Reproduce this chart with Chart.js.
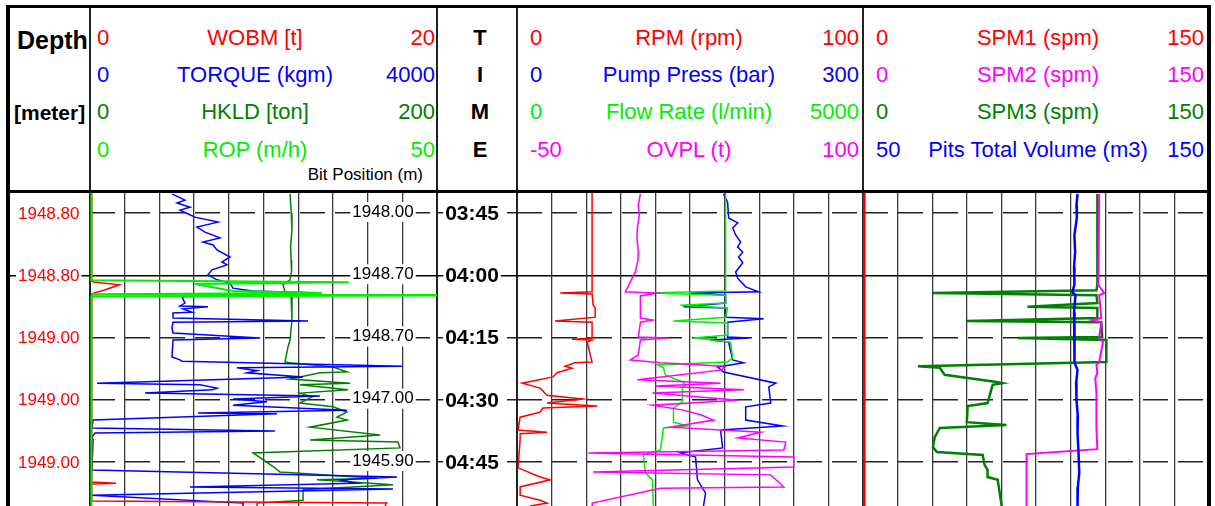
<!DOCTYPE html>
<html>
<head>
<meta charset="utf-8">
<script src="https://cdn.jsdelivr.net/npm/chart.js"></script>
<style>
  html, body { margin: 0; padding: 0; background: #fff; }
  #page { position: relative; width: 1215px; height: 506px; overflow: hidden;
          font-family: "Liberation Sans", Arial, sans-serif; }
  .ln { position: absolute; background: #000; }
  .txt { position: absolute; white-space: nowrap; }
  canvas { position: absolute; }
</style>
</head>
<body>
<div id="page"></div>
<script>
// time axis: minutes after midnight (03:45 = 225)
const tStart = 220.18, tEnd = 295.6;
const tickTimes = [225, 240, 255, 270, 285];
const depthLabels = ['1948.80', '1948.80', '1949.00', '1949.00', '1949.00'];
const bitPosLabels = ['1948.00', '1948.70', '1948.70', '1947.00', '1945.90'];

// each series: [time, value]
const wobm = [[220.2, 0.1], [241.4, 0.1], [241.6, 0.2], [242.3, 1.7], [243.6, 0.8], [244.3, 0.2], [244.5, 0.1],
  [289.8, 0.1], [290.1, 1.5], [290.3, 0.1], [294.4, 0.1], [294.9, 17.1], [295.6, 17]];
const torque = [[220.4, 945], [221.9, 1095], [222.6, 1003], [223.6, 1153], [224.3, 1037], [225.0, 1107], [226.0, 1210],
  [227.2, 1475], [228.4, 1233], [229.6, 1326], [231.0, 1499], [232.0, 1303], [232.7, 1418], [233.9, 1464], [235.6, 1614],
  [236.8, 1522], [237.5, 1579], [238.7, 1406], [239.9, 1360], [241.1, 1464], [241.9, 1614], [243.1, 1648], [243.6, 1810],
  [243.8, 1879], [244.3, 2651], [244.8, 1844], [245.2, 1060], [246.7, 1095], [247.4, 1037], [247.6, 1360], [248.1, 1072],
  [248.9, 1176], [249.1, 957], [250.3, 957], [251.0, 2513], [251.3, 957], [252.7, 945], [253.9, 957], [255.1, 1960],
  [255.6, 957], [259.7, 945], [260.4, 1037], [260.7, 1060], [261.9, 3608], [262.3, 1694], [263.0, 1925], [263.5, 1810],
  [264.5, 2455], [266.0, 81], [266.4, 1268], [267.2, 1464], [267.6, 1406], [268.4, 634], [269.1, 2651], [269.8, 1648],
  [270.5, 2040], [271.3, 1648], [272.5, 2962], [273.2, 1245], [273.4, 2155], [274.9, 35], [276.8, 23], [277.5, 2132],
  [278.0, 58], [279.0, 23], [279.7, 35], [286.4, 23], [286.9, 23], [288.6, 3539], [289.3, 2882], [290.1, 3078],
  [291.0, 1153], [291.5, 3493], [293.0, 20], [294.9, 1764], [295.6, 1764]];
const hkld = [[220.4, 115.3], [225.0, 116.0], [229.1, 116.4], [233.0, 115.6], [236.3, 115.9], [239.0, 116.2], [241.1, 115.3],
  [242.3, 111.2], [244.0, 112.4], [245.2, 115.9], [250.8, 116.4], [255.6, 115.3], [257.3, 114.1], [260.9, 112.4],
  [261.1, 115.3], [262.1, 140.1], [263.3, 148.1], [263.5, 132.6], [265.0, 115.3], [266.0, 149.9], [266.4, 121.0],
  [267.6, 148.7], [268.4, 121.0], [269.3, 128.0], [270.8, 121.0], [271.7, 140.1], [273.0, 148.1], [274.2, 142.4],
  [274.9, 148.1], [276.6, 126.8], [278.5, 167.2], [279.7, 126.8], [280.2, 177.5], [281.6, 178.7], [282.8, 94.0],
  [286.4, 106.6], [287.4, 109.5], [288.9, 165.4], [289.3, 130.8], [290.5, 174.7], [291.7, 122.8], [294.2, 122.8],
  [294.9, 96.3], [295.6, 96.3]];
const rop = [[220.2, 0.2], [241.2, 0.2], [241.7, 37.3], [242.1, 15.1], [243.8, 20.6], [244.3, 33.4], [244.6, 0.2],
  [244.8, 60], [245.1, 0.2], [295.6, 0.2]];

const rpm = [[220.2, 21.7], [244.0, 21.7], [244.3, 12.5], [244.5, 21.7], [247.2, 22.0], [247.9, 22.6], [250.1, 22.6],
  [251.0, 11.0], [251.3, 21.7], [255.1, 21.7], [255.4, 15.9], [255.6, 21.7], [256.1, 20.3], [260.9, 21.7], [261.1, 16.8],
  [261.9, 13.9], [262.4, 15.9], [263.5, 11.6], [264.5, 10.4], [266.0, 1.5], [267.2, 6.7], [268.9, 8.7], [269.8, 19.1],
  [270.8, 8.7], [271.5, 23.2], [272.0, 7.5], [273.0, 6.7], [274.2, 0.9], [277.3, 0.3], [277.8, 8.7], [278.2, 0.9],
  [279.7, 0.9], [286.4, 0.3], [288.6, 6.7], [289.3, 9.6], [291.0, 0.9], [293.0, 0.9], [294.2, 6.7], [294.9, 8.7],
  [295.6, 3.8]];
const pumpPress = [[220.4, 179.1], [222.4, 182.6], [226.2, 183.5], [227.4, 191.3], [228.6, 187.0], [230.3, 189.6],
  [232.0, 193.9], [233.2, 191.3], [234.4, 195.7], [235.6, 192.2], [237.0, 195.7], [239.2, 189.6], [240.7, 191.3],
  [242.8, 198.3], [244.0, 209.6], [244.3, 150.4], [244.8, 180.9], [246.7, 180.9], [247.6, 144.4], [247.9, 180.9],
  [250.1, 180.9], [250.5, 213.9], [251.3, 182.6], [254.9, 182.6], [255.1, 200.9], [255.6, 167.8], [256.1, 183.5],
  [260.4, 187.0], [261.1, 196.5], [262.1, 173.9], [263.3, 179.1], [266.0, 224.4], [266.9, 218.3], [270.8, 220.0],
  [271.7, 198.3], [274.9, 198.3], [276.3, 230.4], [277.3, 176.5], [281.6, 178.3], [282.8, 141.7], [283.8, 154.8],
  [289.3, 156.5], [292.5, 163.5], [295.6, 161.7]];
const flowRate = [[220.2, 3014], [243.8, 3014], [244.3, 1899], [244.8, 3014], [246.7, 3014], [247.2, 2362], [247.9, 3043],
  [250.1, 3014], [251.0, 2261], [251.5, 3043], [254.4, 3043], [255.1, 2551], [256.1, 3087], [259.9, 3116], [260.9, 3043],
  [261.6, 2029], [262.3, 2116], [264.0, 2145], [265.7, 2391], [266.4, 2435], [267.2, 2391], [270.5, 2391], [272.0, 2261],
  [275.4, 2261], [276.3, 2464], [276.8, 2116], [282.1, 2073], [283.3, 1826], [287.6, 1855], [289.3, 1957], [295.6, 1971]];
const ovpl = [[220.4, 3.5], [223.1, 2.6], [225.5, 3.0], [228.6, 2.2], [231.0, 2.0], [234.4, 2.6], [236.5, 2.4], [239.2, 1.3],
  [241.6, -0.9], [244.0, -3.0], [244.3, 10.9], [245.0, 3.5], [250.3, 3.5], [250.8, 8.7], [251.3, 3.5], [254.9, 2.6],
  [255.1, 15.2], [255.6, 3.5], [259.2, 2.6], [260.4, -0.9], [261.1, 12.2], [261.9, 39.6], [262.8, 39.1], [265.2, 2.2],
  [266.0, 38.3], [266.7, 10.0], [267.6, 48.3], [268.4, 8.7], [270.1, 45.7], [271.3, 8.7], [272.5, 22.2], [273.6, 29.6],
  [274.9, 35.2], [276.6, 16.5], [277.8, 55.7], [279.2, 45.7], [280.2, 66.5], [282.1, 65.7], [282.8, -19.1], [283.8, 70.0],
  [286.2, 70.0], [287.4, -17.0], [288.1, 60.0], [291.0, 65.7], [291.3, 12.2], [294.9, -17.4], [295.6, -17.4]];

const spm1 = [[220.2, 0.6], [295.6, 0.6]];
const spm2 = [[220.4, 102.4], [242.3, 102.0], [244.3, 104.6], [244.8, 102.4], [250.3, 103.3], [250.8, 99.4], [251.3, 103.3],
  [254.9, 102.4], [256.1, 104.0], [260.9, 102.4], [261.6, 101.2], [263.5, 101.6], [264.8, 100.7], [268.4, 101.2],
  [276.8, 101.2], [281.9, 101.6], [283.1, 70.9], [295.6, 70.9]];
const spm3 = [[220.4, 101.6], [242.3, 101.6], [243.6, 101.2], [244.3, 30.3], [244.8, 101.2], [246.7, 101.6], [247.6, 71.3],
  [247.9, 101.6], [250.3, 101.6], [251.0, 45.0], [251.3, 103.3], [254.9, 103.7], [255.1, 67.0], [255.6, 105.5],
  [260.9, 105.5], [261.9, 23.8], [262.3, 33.3], [264.0, 35.4], [265.7, 57.9], [266.0, 60.5], [266.4, 56.2], [270.8, 54.0],
  [271.5, 45.4], [275.4, 45.0], [276.1, 62.2], [276.8, 33.3], [279.0, 31.1], [281.4, 30.3], [282.6, 32.0], [283.3, 51.9],
  [285.7, 52.7], [286.9, 54.0], [288.6, 54.0], [289.3, 58.4], [292.2, 59.2], [295.6, 60.1]];
const pitsVol = [[220.4, 112.0], [223.1, 111.7], [226.2, 111.8], [230.3, 111.1], [234.4, 111.3], [238.0, 111.0],
  [242.3, 111.1], [244.0, 110.5], [244.8, 111.4], [249.0, 111.0], [254.4, 111.1], [258.0, 111.2], [261.1, 111.1],
  [262.8, 112.0], [266.0, 111.6], [270.1, 111.7], [274.0, 112.1], [278.0, 112.0], [283.0, 112.3], [287.6, 112.5],
  [291.0, 112.1], [295.6, 112.0]];

const RED = '#ff0000', BLUE = '#0000ff', GREEN = '#008000', LIME = '#00ee00', MAGENTA = '#ff00ff';

const tracks = [
  { left: 90, width: 347, minX: 97, nameX: 255, maxR: 435 },
  { left: 517, width: 346, minX: 530, nameX: 689, maxR: 859 },
  { left: 863, width: 346, minX: 876, nameX: 1038, maxR: 1204 },
];
const rowY = [38, 75, 112, 150];

// listed top-most first (Chart.js draws the first dataset last)
const curves = [
  { track: 0, row: 3, name: 'ROP (m/h)', min: 0, max: 50, color: LIME, width: 2, data: rop },
  { track: 0, row: 0, name: 'WOBM [t]', min: 0, max: 20, color: RED, width: 1.5, data: wobm },
  { track: 0, row: 1, name: 'TORQUE (kgm)', min: 0, max: 4000, color: BLUE, width: 1.5, data: torque },
  { track: 0, row: 2, name: 'HKLD [ton]', min: 0, max: 200, color: GREEN, width: 1.5, data: hkld },
  { track: 1, row: 3, name: 'OVPL (t)', min: -50, max: 100, color: MAGENTA, width: 1.5, data: ovpl },
  { track: 1, row: 0, name: 'RPM (rpm)', min: 0, max: 100, color: RED, width: 1.5, data: rpm },
  { track: 1, row: 2, name: 'Flow Rate (l/min)', min: 0, max: 5000, color: LIME, width: 1.5, data: flowRate },
  { track: 1, row: 1, name: 'Pump Press (bar)', min: 0, max: 300, color: BLUE, width: 1.5, data: pumpPress },
  { track: 2, row: 3, name: 'Pits Total Volume (m3)', min: 50, max: 150, color: BLUE, width: 2.5, data: pitsVol },
  { track: 2, row: 1, name: 'SPM2 (spm)', min: 0, max: 150, color: MAGENTA, width: 2, data: spm2 },
  { track: 2, row: 2, name: 'SPM3 (spm)', min: 0, max: 150, color: GREEN, width: 2.5, data: spm3 },
  { track: 2, row: 0, name: 'SPM1 (spm)', min: 0, max: 150, color: RED, width: 2.5, data: spm1 },
];

const page = document.getElementById('page');
const FONT = '"Liberation Sans", Arial, sans-serif';
Chart.defaults.font.family = FONT;

function box(x, y, w, h, color) {
  const d = document.createElement('div');
  d.className = 'ln';
  Object.assign(d.style, { left: x + 'px', top: y + 'px', width: w + 'px', height: h + 'px', background: color || '#000' });
  page.appendChild(d);
}

function addText(str, x, y, o) {
  const d = document.createElement('div');
  const fs = o.size || 22;
  d.className = 'txt';
  d.textContent = str;
  d.style.fontSize = fs + 'px';
  d.style.lineHeight = fs + 'px';
  d.style.top = (y - fs / 2) + 'px';
  d.style.color = o.color || '#000';
  if (o.bold) d.style.fontWeight = 'bold';
  if (o.align === 'center') { d.style.left = x + 'px'; d.style.transform = 'translateX(-50%)'; }
  else if (o.align === 'right') d.style.right = (1215 - x) + 'px';
  else d.style.left = x + 'px';
  page.appendChild(d);
}

// frame and track separators
box(89, 8, 2, 498, '#222');
box(436, 8, 2, 498, '#222');
box(516, 8, 2, 498, '#222');
box(862, 8, 2, 498, '#222');
box(6, 5, 1205, 3);
box(6, 5, 4, 501);
box(1207, 5, 4, 501);
box(6, 190, 1205, 3);

// header
addText('Depth', 17, 40.5, { size: 25, bold: true });
addText('[meter]', 14, 112, { size: 21, bold: true });
['T', 'I', 'M', 'E'].forEach((ch, i) => addText(ch, 480, rowY[i], { bold: true, align: 'center' }));
addText('Bit Position (m)', 423, 174, { size: 17, align: 'right' });
curves.forEach(c => {
  const tr = tracks[c.track], y = rowY[c.row];
  addText(String(c.min), tr.minX, y, { color: c.color });
  addText(c.name, tr.nameX, y, { color: c.color, align: 'center' });
  addText(String(c.max), tr.maxR, y, { color: c.color, align: 'right' });
});

function makeCanvas(x, w) {
  const c = document.createElement('canvas');
  c.width = w; c.height = 313;
  Object.assign(c.style, { left: x + 'px', top: '193px', width: w + 'px', height: '313px' });
  page.appendChild(c);
  return c;
}

function timeAxis(colorFn) {
  return {
    type: 'linear', min: tStart, max: tEnd, reverse: true,
    afterBuildTicks: s => { s.ticks = tickTimes.map(v => ({ value: v })); },
    ticks: { display: false },
    grid: { color: colorFn, lineWidth: 1.5, drawTicks: false },
    border: { display: false, dash: ctx => (ctx.tick && ctx.tick.value % 60 !== 0) ? [25, 10] : [] },
  };
}

const baseOptions = () => ({
  responsive: false, animation: false, events: [],
  layout: { padding: 0 },
  plugins: { legend: { display: false }, tooltip: { enabled: false } },
});

function labelPlugin(id, labels, font, color, x, align, dy) {
  return {
    id,
    beforeDatasetsDraw(chart) {
      const { ctx } = chart, y = chart.scales.y;
      ctx.save();
      ctx.font = font;
      ctx.textBaseline = 'middle';
      ctx.textAlign = align;
      tickTimes.forEach((t, i) => {
        const py = y.getPixelForValue(t) + dy;
        const w = ctx.measureText(labels[i]).width;
        const left = align === 'center' ? x - w / 2 : x;
        ctx.fillStyle = '#fff';
        ctx.fillRect(left - 2, py - 10, w + 4, 20);
        ctx.fillStyle = color;
        ctx.fillText(labels[i], x, py);
      });
      ctx.restore();
    }
  };
}

// depth track
new Chart(makeCanvas(10, 80), {
  type: 'scatter',
  data: { datasets: [] },
  options: Object.assign(baseOptions(), {
    scales: {
      x: { type: 'linear', display: false, min: 0, max: 1 },
      y: timeAxis(ctx => (ctx.tick && ctx.tick.value % 60 === 0) ? '#000' : 'rgba(0,0,0,0)'),
    }
  }),
  plugins: [labelPlugin('depth', depthLabels, '17px ' + FONT, RED, 8, 'left', 1)],
});

// time track
const timeLabels = tickTimes.map(t => String(Math.floor(t / 60)).padStart(2, '0') + ':' + String(t % 60).padStart(2, '0'));
new Chart(makeCanvas(437, 80), {
  type: 'scatter',
  data: { datasets: [] },
  options: Object.assign(baseOptions(), {
    scales: {
      x: { type: 'linear', display: false, min: 0, max: 1 },
      y: timeAxis(ctx => (ctx.tick && ctx.tick.value % 60 === 0) ? '#000' : '#222'),
    }
  }),
  plugins: [labelPlugin('time', timeLabels, 'bold 21px ' + FONT, '#000', 35, 'center', 1)],
});

// curve tracks
tracks.forEach((tr, ti) => {
  const list = curves.filter(c => c.track === ti);
  const scales = {
    y: timeAxis(ctx => (ctx.tick && ctx.tick.value % 60 === 0) ? '#000' : '#222'),
    g: {
      type: 'linear', axis: 'x', position: 'bottom', min: 0, max: 10,
      afterBuildTicks: s => { s.ticks = [1, 2, 3, 4, 5, 6, 7, 8, 9].map(v => ({ value: v })); },
      ticks: { display: false },
      grid: { color: '#3a3a3a', lineWidth: 1.3, drawTicks: false },
      border: { display: false },
    },
  };
  list.forEach((c, i) => {
    scales['x' + i] = { type: 'linear', axis: 'x', display: false, min: c.min, max: c.max };
  });
  new Chart(makeCanvas(tr.left, tr.width), {
    type: 'scatter',
    data: {
      datasets: list.map((c, i) => ({
        label: c.name,
        data: c.data.map(([t, v]) => ({ x: v, y: t })),
        xAxisID: 'x' + i, yAxisID: 'y',
        showLine: true, borderColor: c.color, borderWidth: c.width,
        pointRadius: 0, tension: 0, fill: false,
      }))
    },
    options: Object.assign(baseOptions(), { scales }),
    plugins: ti === 0 ? [labelPlugin('bitpos', bitPosLabels, '17px ' + FONT, '#000', 293, 'center', -1)] : [],
  });
});
</script>
</body>
</html>
